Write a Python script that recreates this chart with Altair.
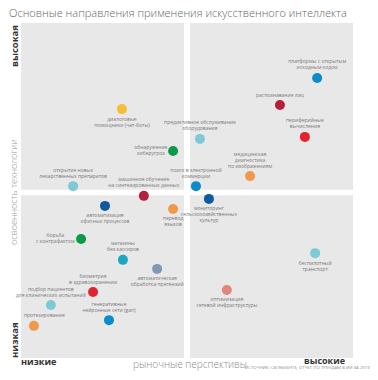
import altair as alt
import pandas as pd

# --- data ---
labels = [
    "платформы с открытым\nисходным кодом",
    "распознавание лиц",
    "периферийные\nвычисления",
    "предиктивное обслуживание\nоборудования",
    "медицинская\nдиагностика\nпо изображениям",
    "поиск в электронной\nкоммерции",
    "мониторинг\nсельскохозяйственных\nкультур",
    "диалоговые\nпомощники (чат-боты)",
    "обнаружение\nкиберугроз",
    "открытие новых\nлекарственных препаратов",
    "машинное обучение\nна синтезированных данных",
    "автоматизация\nофисных процессов",
    "перевод\nязыков",
    "борьба\nс контрафактом",
    "магазины\nбез кассиров",
    "автоматическая\nобработка претензий",
    "биометрия\nв здравоохранении",
    "подбор пациентов\nдля клинических испытаний",
    "генеративные\nнейронные сети (gan)",
    "протезирование",
    "беспилотный\nтранспорт",
    "оптимизация\nсетевой инфраструктуры",
]
market = [89.2, 78.0, 85.5, 53.9, 69.0, 52.7, 56.6, 30.4, 45.8, 15.7, 37.0,
          25.3, 45.8, 18.1, 30.7, 41.0, 21.7, 9.0, 26.5, 3.9, 88.6, 62.0]
maturity = [83.6, 75.5, 66.0, 65.4, 54.3, 51.3, 47.5, 74.3, 61.8, 51.3, 48.4,
            45.4, 44.5, 35.5, 29.3, 26.6, 19.7, 15.8, 11.3, 9.6, 31.3, 20.3]
colors = ["#0A8BCB", "#B41F3B", "#E1232E", "#7DCAD5", "#F1994A", "#0A8BCB",
          "#0D5A9E", "#F6BE36", "#0B9A48", "#7DCAD5", "#B41F3B", "#0D5A9E",
          "#F1994A", "#0B9A48", "#1AA9BE", "#8497B2", "#E1232E", "#7DCAD5",
          "#0A8BCB", "#F1994A", "#7DCAD5", "#E08779"]
placement = ["above", "above", "above", "above", "above", "above", "below",
             "below", "left", "above", "above", "below", "below", "left",
             "above", "below", "above", "above", "above", "start", "below",
             "below"]

W, H = 332, 335
FS, LH = 5, 6
df = pd.DataFrame({"label": labels, "x": market, "y": maturity,
                   "color": colors, "place": placement})
lines = df["label"].str.split("\n")
nlines = lines.apply(len)
maxlen = lines.apply(lambda l: max(len(s) for s in l))

# label anchors derived from the dot position and the label's line count
df["lx"] = df["x"]
df["ly"] = df["y"]
left = df["place"] == "left"
df.loc[left, "lx"] = df.loc[left, "x"] - (maxlen[left] * 2.4 / 2 + 9) * 100 / W
up = df["place"].isin(["above", "start"])
df.loc[up, "ly"] = df.loc[up, "y"] + (nlines[up] - 1) * LH * 100 / H
df.loc[left, "ly"] = df.loc[left, "y"] + (nlines[left] - 1) * LH / 2 * 100 / H

xs = alt.Scale(domain=[0, 100], nice=False, zero=False)
ys = alt.Scale(domain=[0, 100], nice=False, zero=False)

mid, gx, gy = 50.0, 0.9, 0.8
quads = pd.DataFrame({
    "x": [0, mid + gx, 0, mid + gx],
    "x2": [mid - gx, 100, mid - gx, 100],
    "y": [mid - 0.6 + gy, mid - 0.6 + gy, 0, 0],
    "y2": [100, 100, mid - 0.6 - gy, mid - 0.6 - gy],
})

bg = alt.Chart(quads).mark_rect(color="#E8E8E8").encode(
    x=alt.X("x:Q", scale=xs, axis=None), x2="x2:Q",
    y=alt.Y("y:Q", scale=ys, axis=None), y2="y2:Q")

base = alt.Chart(df)
dots = base.mark_circle(size=100, opacity=1).encode(
    x=alt.X("x:Q", scale=xs, axis=None),
    y=alt.Y("y:Q", scale=ys, axis=None),
    color=alt.Color("color:N", scale=None))

tstyle = dict(font="Open Sans", fontSize=FS, color="#7a7a7a",
              lineBreak="\n", lineHeight=LH)

def lab(place, **kw):
    return base.transform_filter(alt.datum.place == place).mark_text(
        **tstyle, **kw).encode(
        x=alt.X("lx:Q", scale=xs, axis=None),
        y=alt.Y("ly:Q", scale=ys, axis=None),
        text="label:N")

above = lab("above", align="center", baseline="bottom", dy=-7.5)
below = lab("below", align="center", baseline="top", dy=7.5)
leftl = lab("left", align="center", baseline="middle", dy=-1)
start = lab("start", align="left", baseline="bottom", dy=-7.5, dx=-10)

def txt(s, x, y, **kw):
    return alt.Chart(pd.DataFrame({"t": [s]})).mark_text(**kw).encode(
        x=alt.value(x), y=alt.value(y), text="t:N")

title = txt("Основные направления применения искусственного интеллекта",
            -12, -9.5, align="left", baseline="middle", font="Open Sans",
            fontSize=11, fontWeight=300, color="#666666")
hi_y = txt("высокая", -6, 2, angle=270, align="right", baseline="middle",
           font="Open Sans", fontSize=9.5, fontWeight="bold", color="#333333")
lo_y = txt("низкая", -6, 335, angle=270, align="left", baseline="middle",
           font="Open Sans", fontSize=9.5, fontWeight="bold", color="#333333")
ax_y = txt("освоенность технологии", -7.5, 169, angle=270, align="center",
           baseline="middle", font="Open Sans", fontSize=9, fontWeight=300,
           color="#9a9a9a")
lo_x = txt("низкие", 0, 339, align="left", baseline="middle",
           font="Open Sans", fontSize=9.2, fontWeight="bold", color="#333333")
hi_x = txt("высокие", 324, 337.5, align="right", baseline="middle",
           font="Open Sans", fontSize=9, fontWeight="bold", color="#333333")
ax_x = txt("рыночные перспективы", 169, 342, align="center",
           baseline="middle", font="Open Sans", fontSize=10, fontWeight=300,
           color="#8a8a8a")
src = txt("ИСТОЧНИК: CB INSIGHTS, ОТЧЕТ ПО ТРЕНДАМ В ИИ ЗА 2019 Г.", 224, 345,
          align="left", baseline="middle", font="Open Sans", fontSize=4.3,
          color="#8a8a8a")

chart = alt.layer(bg, dots, above, below, leftl, start, title, hi_y, lo_y,
                  ax_y, lo_x, hi_x, ax_x, src).properties(
    width=W, height=H,
    autosize=alt.AutoSizeParams(type="none"),
    padding={"left": 13, "top": 15, "right": 17, "bottom": 14},
).configure_view(stroke=None)

chart.save("out.html", embed_options={"renderer": "svg", "actions": False})
